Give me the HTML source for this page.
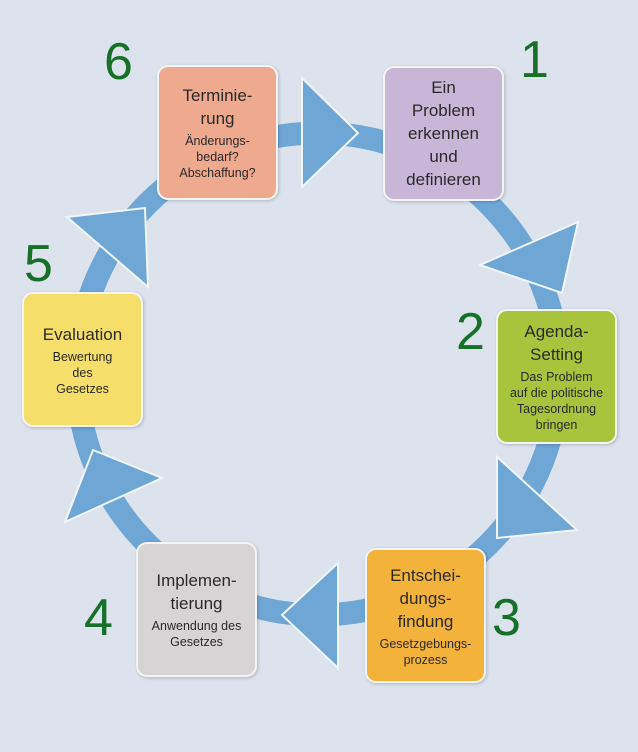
<!DOCTYPE html>
<html><head><meta charset="utf-8"><style>
html,body{margin:0;padding:0}
body{width:638px;height:752px;background:#dde3ec;position:relative;overflow:hidden;font-family:"Liberation Sans",sans-serif}
svg{position:absolute;left:0;top:0}
.b{position:absolute;width:121px;height:135px;border:2px solid #f4f4f4;border-radius:11px;box-sizing:border-box;text-align:center;color:#2a2a2a;display:flex;flex-direction:column;justify-content:center;box-shadow:1px 1px 3px rgba(0,0,0,.2)}
.t{font-size:17px;line-height:23px}
.s{font-size:12.5px;line-height:16px;margin-top:3px}
.n{position:absolute;color:#16702a;font-size:52px;line-height:52px}
</style></head><body>
<svg width="638" height="752" viewBox="0 0 638 752">
<circle cx="318" cy="374" r="241" fill="none" stroke="#6ea6d6" stroke-width="23"/>
<g fill="#6ea6d6" stroke="#f2f5f8" stroke-width="2" stroke-linejoin="miter">
<polygon points="302,78 302,187 358,133"/>
<polygon points="578,222 480,265 562,293"/>
<polygon points="497,457 577,530 497,538"/>
<polygon points="338,563 338,668 282,615"/>
<polygon points="162,478 65,522 93,450"/>
<polygon points="67,217 148,287 145,208"/>
</g>
</svg>
<div class="b" style="left:157px;top:65px;background:#eea98e"><div class="t">Terminie-<br>rung</div><div class="s">Änderungs-<br>bedarf?<br>Abschaffung?</div></div>
<div class="b" style="left:383px;top:66px;background:#c8b6d8"><div class="t">Ein<br>Problem<br>erkennen<br>und<br>definieren</div></div>
<div class="b" style="left:496px;top:309px;background:#a8c43c"><div class="t">Agenda-<br>Setting</div><div class="s">Das Problem<br>auf die politische<br>Tagesordnung<br>bringen</div></div>
<div class="b" style="left:365px;top:548px;background:#f3b23a"><div class="t">Entschei-<br>dungs-<br>findung</div><div class="s">Gesetzgebungs-<br>prozess</div></div>
<div class="b" style="left:136px;top:542px;background:#d6d4d4"><div class="t">Implemen-<br>tierung</div><div class="s">Anwendung des<br>Gesetzes</div></div>
<div class="b" style="left:22px;top:292px;background:#f5de6a"><div class="t">Evaluation</div><div class="s">Bewertung<br>des<br>Gesetzes</div></div>
<div class="n" style="left:104px;top:36px">6</div>
<div class="n" style="left:520px;top:34px">1</div>
<div class="n" style="left:456px;top:306px">2</div>
<div class="n" style="left:492px;top:592px">3</div>
<div class="n" style="left:84px;top:592px">4</div>
<div class="n" style="left:24px;top:238px">5</div>
</body></html>
